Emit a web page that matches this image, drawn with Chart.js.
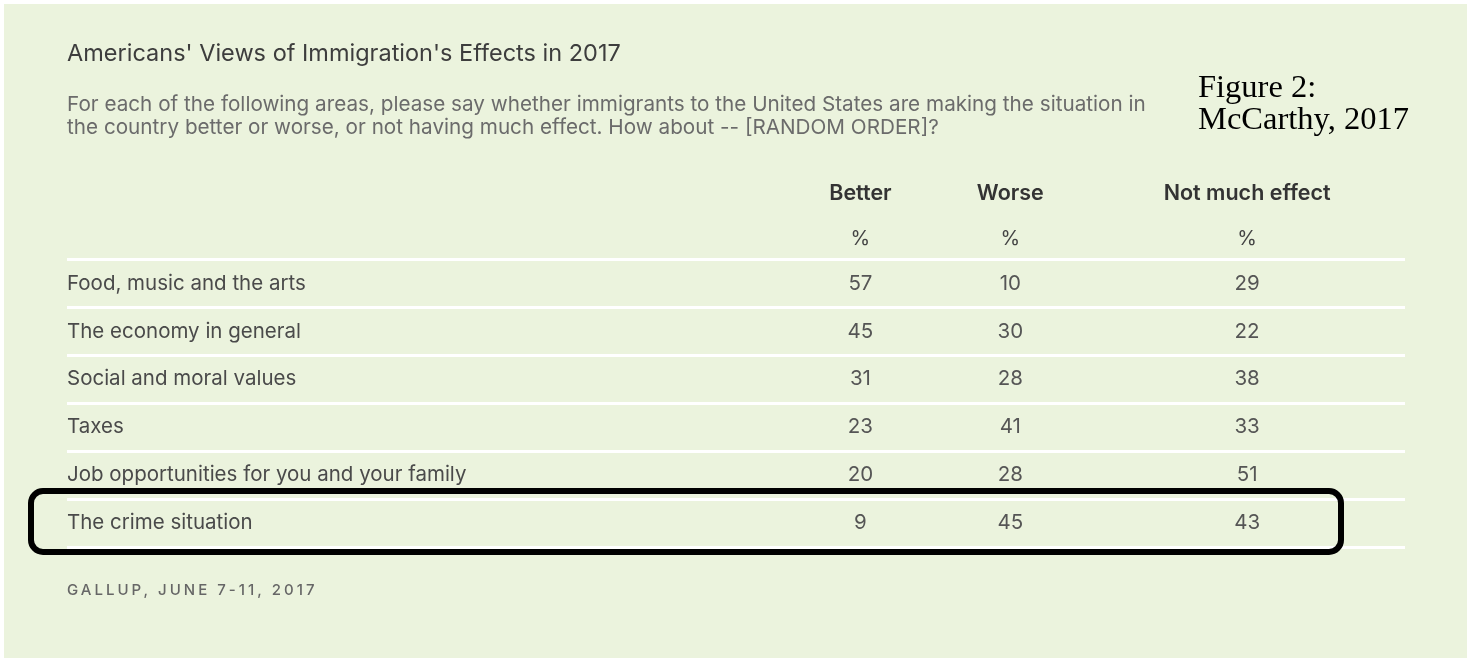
<!DOCTYPE html>
<html>
<head>
<meta charset="utf-8">
<script src="https://cdn.jsdelivr.net/npm/chart.js@4.4.1/dist/chart.umd.min.js"></script>
<style>
  body { margin: 0; background: #fff; }
  canvas { display: block; }
</style>
</head>
<body>
<canvas id="chart" width="1470" height="662"></canvas>
<script>
// table content
const rows = [
  'Food, music and the arts',
  'The economy in general',
  'Social and moral values',
  'Taxes',
  'Job opportunities for you and your family',
  'The crime situation'
];
const columns = ['Better', 'Worse', 'Not much effect'];
const better = [57, 45, 31, 23, 20, 9];
const worse = [10, 30, 28, 41, 28, 45];
const notMuch = [29, 22, 38, 33, 51, 43];
const series = [better, worse, notMuch];

const titleText = "Americans' Views of Immigration's Effects in 2017";
const subtitleLines = [
  'For each of the following areas, please say whether immigrants to the United States are making the situation in',
  'the country better or worse, or not having much effect. How about -- [RANDOM ORDER]?'
];
const sourceText = 'GALLUP, JUNE 7-11, 2017';
const figureNote = ['Figure 2:', 'McCarthy, 2017'];
const highlightRow = 'The crime situation';

// column centres as % of the table width (layout, not data)
const colPos = [59.3, 70.5, 88.2];

const sans = 'Inter, Roboto, sans-serif';

var tablePlugin = {
  id: 'tablePlugin',
  beforeDraw: function(chart) {
    var ctx = chart.ctx;
    ctx.save();
    ctx.fillStyle = '#ffffff';
    ctx.fillRect(0, 0, chart.width, chart.height);
    ctx.fillStyle = '#ebf3dd';
    ctx.fillRect(4, 4, chart.width - 7, chart.height - 8);
    ctx.restore();
  },
  afterDatasetsDraw: function(chart) {
    var ctx = chart.ctx;
    var area = chart.chartArea;
    var x = chart.scales.x;
    var y = chart.scales.y;
    ctx.save();
    // headers
    ctx.textAlign = 'center';
    ctx.textBaseline = 'middle';
    columns.forEach(function(c, i) {
      var px = x.getPixelForValue(colPos[i]);
      ctx.fillStyle = '#333333';
      ctx.font = '600 21.5px ' + sans;
      ctx.fillText(c, px, area.top - 66);
      ctx.fillStyle = '#444444';
      ctx.font = '400 20px ' + sans;
      ctx.fillText('%', px, area.top - 21);
    });
    // cell values at the points' positions
    ctx.fillStyle = '#555555';
    ctx.font = '400 20.5px ' + sans;
    chart.data.datasets.forEach(function(ds, d) {
      var meta = chart.getDatasetMeta(d);
      meta.data.forEach(function(pt, i) {
        ctx.fillText(String(series[d][i]), pt.x, pt.y);
      });
    });
    // highlight box around one row
    var idx = rows.indexOf(highlightRow);
    var half = (y.getPixelForValue(1) - y.getPixelForValue(0)) / 2;
    var cy = y.getPixelForValue(idx);
    ctx.strokeStyle = '#000000';
    ctx.lineWidth = 6;
    ctx.beginPath();
    ctx.roundRect(area.left - 36, cy - half - 8, 1310, 2 * half + 13, 12);
    ctx.stroke();
    // source line
    ctx.textAlign = 'left';
    ctx.fillStyle = '#666666';
    ctx.font = '500 15px ' + sans;
    ctx.letterSpacing = '3px';
    ctx.fillText(sourceText, area.left, area.bottom + 43);
    ctx.letterSpacing = '0px';
    // figure note
    ctx.fillStyle = '#000000';
    ctx.font = '32.5px "Liberation Serif", "Times New Roman", serif';
    ctx.fillText(figureNote[0], 1198, 88);
    ctx.fillText(figureNote[1], 1198, 120);
    ctx.restore();
  }
};

var datasets = columns.map(function(c, ci) {
  return {
    label: c,
    data: rows.map(function(r) { return { x: colPos[ci], y: r }; }),
    pointRadius: 0,
    pointHoverRadius: 0
  };
});

var ctx = document.getElementById('chart').getContext('2d');
var chart = new Chart(ctx, {
  type: 'scatter',
  data: { datasets: datasets },
  options: {
    responsive: false,
    animation: false,
    devicePixelRatio: 1,
    events: [],
    layout: { padding: { left: 67, right: 65, top: 0, bottom: 115 } },
    scales: {
      x: { type: 'linear', min: 0, max: 100, display: false },
      y: {
        type: 'category',
        labels: rows,
        offset: true,
        border: { display: false },
        grid: {
          offset: true,
          drawTicks: false,
          lineWidth: 3,
          color: function(c) { return c.index === rows.length ? 'rgba(0,0,0,0)' : '#ffffff'; }
        },
        ticks: {
          mirror: true,
          padding: 0,
          color: '#4a4a4a',
          font: { family: sans, size: 20.5 }
        }
      }
    },
    plugins: {
      legend: { display: false },
      tooltip: { enabled: false },
      title: {
        display: true,
        text: titleText,
        align: 'start',
        color: '#3d3d3d',
        font: { family: sans, size: 23.5, weight: '400', lineHeight: 1.2 },
        padding: { top: 40, bottom: 0 }
      },
      subtitle: {
        display: true,
        text: subtitleLines,
        align: 'start',
        color: '#6b6b6b',
        font: { family: sans, size: 20.7, weight: '400', lineHeight: 1.12 },
        padding: { top: 25, bottom: 120 }
      }
    }
  },
  plugins: [tablePlugin]
});
</script>
</body>
</html>
